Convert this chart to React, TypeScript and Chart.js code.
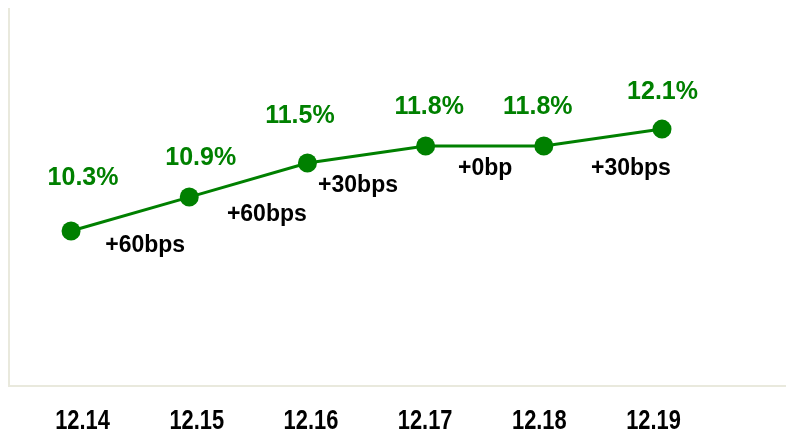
import React, { useEffect, useRef } from "react";
import { Chart, registerables } from "chart.js";

Chart.register(...registerables);

const categories = ["12.14", "12.15", "12.16", "12.17", "12.18", "12.19"];
const values = [10.3, 10.9, 11.5, 11.8, 11.8, 12.1];
const valueLabels = ["10.3%", "10.9%", "11.5%", "11.8%", "11.8%", "12.1%"];
const changeLabels = ["+60bps", "+60bps", "+30bps", "+0bp", "+30bps"];

// label nudges in px, relative to the point / segment midpoint
const valueNudgeX = [12, 11.5, -7.5, 3.5, -6, 0.5];
const valueNudgeY = [-46, -32, -40, -32.5, -32, -30.5];
const changeNudgeX = [15, 18.5, -8.5, 0.5, 28];
const changeNudgeY = [38, 41, 37, 29, 37];

const GREEN = "#008000";
const AXIS = "#e9e9dd";
const SANS = '"Liberation Sans", Arial, sans-serif';

const labelPlugin = {
  id: "pointLabels",
  afterDatasetsDraw(chart: any) {
    const meta = chart.getDatasetMeta(0);
    const ctx = chart.ctx;
    ctx.save();
    ctx.textAlign = "center";
    ctx.textBaseline = "alphabetic";
    ctx.fillStyle = GREEN;
    ctx.font = `bold 25px ${SANS}`;
    meta.data.forEach((p: any, i: number) => {
      ctx.fillText(valueLabels[i], p.x + valueNudgeX[i], p.y + valueNudgeY[i]);
    });
    ctx.fillStyle = "#000000";
    ctx.font = `bold 23px ${SANS}`;
    changeLabels.forEach((t, i) => {
      const a = meta.data[i];
      const b = meta.data[i + 1];
      const mx = (a.x + b.x) / 2;
      const my = (a.y + b.y) / 2;
      ctx.fillText(t, mx + changeNudgeX[i], my + changeNudgeY[i]);
    });
    // condensed category labels on the bottom axis
    const xl = chart.scales.xl;
    ctx.font = `bold 27px ${SANS}`;
    ctx.fillStyle = "#000000";
    categories.forEach((c, i) => {
      const x = xl.getPixelForValue(i);
      ctx.save();
      ctx.translate(x, xl.bottom - 3);
      ctx.scale(0.81, 1);
      ctx.fillText(c, 0, 0);
      ctx.restore();
    });
    ctx.restore();
  },
};

export default function App() {
  const ref = useRef<HTMLCanvasElement | null>(null);
  useEffect(() => {
    if (!ref.current) return;
    const chart = new Chart(ref.current, {
      type: "line",
      data: {
        datasets: [
          {
            data: values.map((v, i) => ({ x: i, y: v })),
            borderColor: GREEN,
            borderWidth: 3,
            backgroundColor: GREEN,
            pointBackgroundColor: GREEN,
            pointBorderWidth: 0,
            pointRadius: 9.5,
            tension: 0,
            clip: false,
            xAxisID: "x",
            yAxisID: "y",
          },
        ],
      },
      options: {
        responsive: false,
        animation: false,
        layout: { autoPadding: false, padding: { left: 9, top: 9, right: 0, bottom: 0 } },
        plugins: { legend: { display: false }, tooltip: { enabled: false } },
        scales: {
          x: { type: "linear", display: false, min: -0.525, max: 6.049 },
          xl: {
            type: "linear",
            position: "bottom",
            min: -0.644,
            max: 6.16,
            grid: { display: false, drawTicks: false },
            border: { display: true, color: AXIS, width: 2 },
            afterBuildTicks: (axis: any) => {
              axis.ticks = categories.map((_, i) => ({ value: i }));
            },
            afterFit: (axis: any) => {
              axis.height = 46;
            },
            ticks: { display: false },
          },
          y: {
            min: 7.565,
            max: 14.22,
            grid: { display: false, drawTicks: false },
            border: { display: true, color: AXIS, width: 2 },
            ticks: { display: false },
          },
        },
      },
      plugins: [labelPlugin],
    } as any);
    return () => chart.destroy();
  }, []);
  return (
    <div style={{ position: "absolute", left: 0, top: 0, width: 786, height: 432, background: "#fff" }}>
      <canvas ref={ref} width={786} height={432} />
    </div>
  );
}
